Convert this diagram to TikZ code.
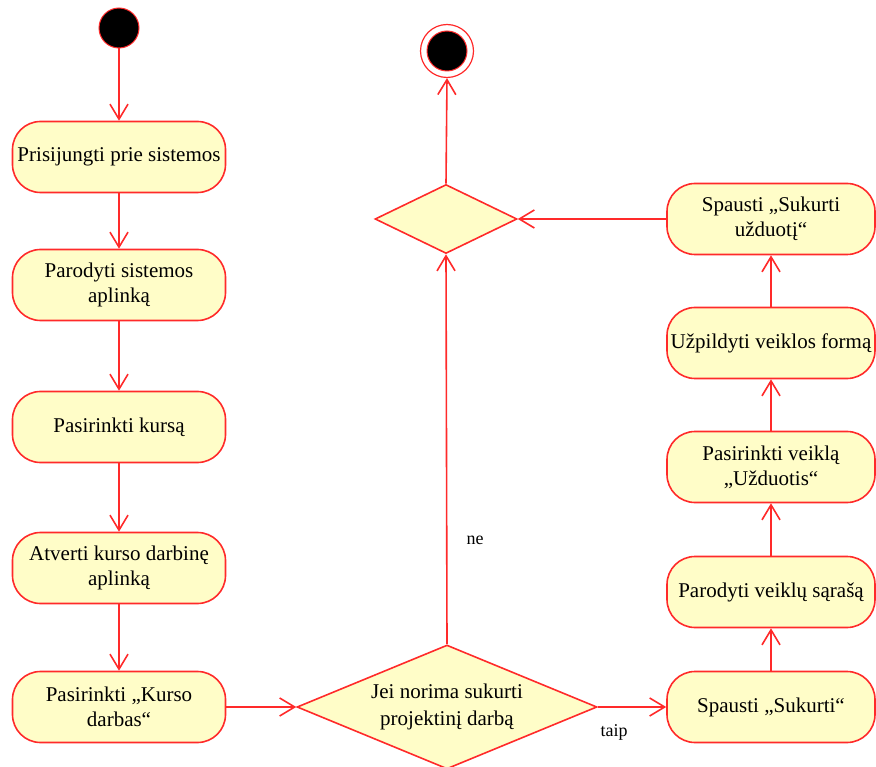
\documentclass[tikz,border=0pt]{standalone}
\usepackage{fontspec}
\setmainfont{Liberation Serif}
\usetikzlibrary{arrows.meta,shapes.geometric}
\definecolor{umlred}{HTML}{FF2A2A}
\definecolor{umlfill}{HTML}{FFFDC8}

\begin{document}
\begin{tikzpicture}[x=1pt,y=-1pt,
  act/.style={draw=umlred, fill=umlfill, line width=1.6pt, rounded corners=28pt,
    minimum height=71pt, align=center, font=\fontsize{21}{25}\selectfont, inner sep=0pt},
  leftact/.style={act, minimum width=213pt},
  rightact/.style={act, minimum width=208pt},
  decision/.style={draw=umlred, fill=umlfill, line width=1.6pt, diamond, inner sep=0pt,
    align=center, font=\fontsize{21}{27}\selectfont},
  flow/.style={draw=umlred, line width=1.6pt, -{Straight Barb[length=15pt,width=18pt]}},
  guard/.style={font=\fontsize{18}{20}\selectfont}
]
\useasboundingbox (0,0) rectangle (876,767);

% initial and final states
\node[circle, fill=black, draw=umlred, line width=1pt, minimum size=40pt, inner sep=0pt] (start) at (119,28) {};
\node[circle, draw=umlred, fill=white, line width=1.2pt, minimum size=53pt, inner sep=0pt] (final) at (447,51) {};
\node[circle, fill=black, draw=umlred, line width=1pt, minimum size=40pt, inner sep=0pt] (finaldot) at (final) {};

% left column of actions
\node[leftact] (a1) at (119,157) {Prisijungti prie sistemos};
\node[leftact] (a2) at (119,285) {Parodyti sistemos\\aplinką};
\node[leftact] (a3) at (119,427) {Pasirinkti kursą};
\node[leftact] (a4) at (119,568) {Atverti kurso darbinę\\aplinką};
\node[leftact] (a5) at (119,707) {Pasirinkti „Kurso\\darbas“};

% decisions
\node[decision, shape aspect=2.42, minimum width=300pt, minimum height=124pt] (dec) at (447,707) {Jei norima sukurti\\projektinį darbą};
\node[decision, shape aspect=2.06, minimum width=142pt, minimum height=69pt] (merge) at (446,219) {};

% right column of actions
\node[rightact] (b5) at (771,707) {Spausti „Sukurti“};
\node[rightact] (b4) at (771,592) {Parodyti veiklų sąrašą};
\node[rightact] (b3) at (771,467) {Pasirinkti veiklą\\„Užduotis“};
\node[rightact] (b2) at (771,343) {Užpildyti veiklos formą};
\node[rightact] (b1) at (771,219) {Spausti „Sukurti\\užduotį“};

% guard labels
\node[guard] (taip) at (614,732) {taip};
\node[guard] (ne) at (475,540) {ne};

% flows
\draw[flow] (start) -- (a1);
\draw[flow] (a1) -- (a2);
\draw[flow] (a2) -- (a3);
\draw[flow] (a3) -- (a4);
\draw[flow] (a4) -- (a5);
\draw[flow] (a5.east) -- (dec.west);
\draw[flow] (dec.east) -- (b5.west);
\draw[flow] (b5) -- (b4);
\draw[flow] (b4) -- (b3);
\draw[flow] (b3) -- (b2);
\draw[flow] (b2) -- (b1);
\draw[flow] (b1.west) -- (merge.east);
\draw[flow] (dec.north) -- (merge.south);
\draw[flow] (merge.north) -- (final.south);
\end{tikzpicture}
\end{document}
